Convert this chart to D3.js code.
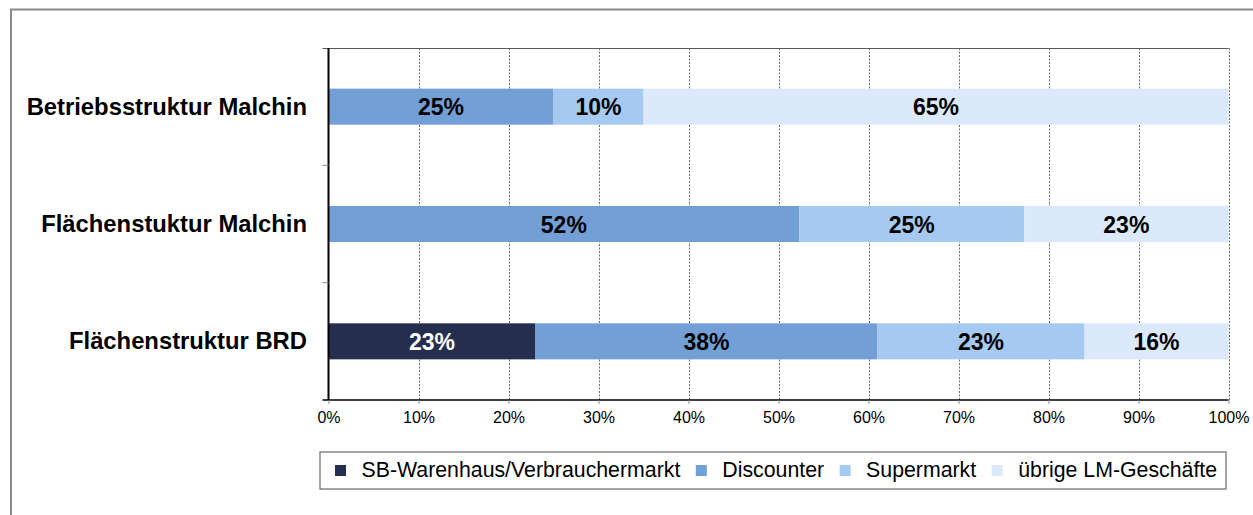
<!DOCTYPE html>
<html><head><meta charset="utf-8">
<script src="https://cdn.jsdelivr.net/npm/d3@7"></script>
<style>body{margin:0;background:#fff;} svg{display:block;font-family:"Liberation Sans",Arial,sans-serif;}</style>
</head><body>
<svg id="c" width="1253" height="515"></svg>
<script>
const categories = ["Betriebsstruktur Malchin", "Flächenstuktur Malchin", "Flächenstruktur BRD"];
const seriesNames = ["SB-Warenhaus/Verbrauchermarkt", "Discounter", "Supermarkt", "übrige LM-Geschäfte"];
const sbWarenhaus = [0, 0, 23];
const discounter = [25, 52.3, 38];
const supermarkt = [10, 25, 23];
const uebrige = [65, 22.7, 16];
const valueLabels = [["", "25%", "10%", "65%"], ["", "52%", "25%", "23%"], ["23%", "38%", "23%", "16%"]];
const tickValues = [0, 10, 20, 30, 40, 50, 60, 70, 80, 90, 100];
const colors = ["#252f4d", "#729fd5", "#a5c9f1", "#dbe9fa"];
const labelColors = ["#fff", "#000", "#000", "#000"];

const series = [sbWarenhaus, discounter, supermarkt, uebrige];
const rows = categories.map((c, i) => {
  const r = {cat: c};
  seriesNames.forEach((s, j) => r[s] = series[j][i]);
  return r;
});
const stack = d3.stack().keys(seriesNames)(rows);

const svg = d3.select("#c");
const pLeft = 328.5, pRight = 1228.5, pTop = 48, pBottom = 400;
const x = d3.scaleLinear().domain([0, 100]).range([pLeft, pRight]);
const y = d3.scaleBand().domain(categories).range([pTop, pBottom]).paddingInner(0.693).paddingOuter(0.3465);

// outer frame
svg.append("rect").attr("x", 11).attr("y", 9.5).attr("width", 1260).attr("height", 520)
  .attr("fill", "none").attr("stroke", "#8a8a8a").attr("stroke-width", 2);

// gridlines
svg.append("g").selectAll("line").data(tickValues.slice(1)).join("line")
  .attr("x1", d => Math.round(x(d)) + 0.5).attr("x2", d => Math.round(x(d)) + 0.5)
  .attr("y1", pTop).attr("y2", pBottom)
  .attr("stroke", "#6f6f6f").attr("stroke-width", 1).attr("stroke-dasharray", "2,1.5");

// top line
svg.append("line").attr("x1", pLeft - 6).attr("x2", pRight).attr("y1", pTop + 0.5).attr("y2", pTop + 0.5)
  .attr("stroke", "#5a5a5a").attr("stroke-width", 1);

// bars
const g = svg.append("g");
stack.forEach((layer, j) => {
  g.selectAll(null).data(layer).join("rect")
    .attr("x", d => x(d[0])).attr("width", d => x(d[1]) - x(d[0]))
    .attr("y", d => y(d.data.cat)).attr("height", y.bandwidth())
    .attr("fill", colors[j]);
});
// value labels
stack.forEach((layer, j) => {
  g.selectAll(null).data(layer).join("text")
    .attr("x", d => (x(d[0]) + x(d[1])) / 2)
    .attr("y", d => y(d.data.cat) + y.bandwidth() / 2 + 8.5)
    .attr("text-anchor", "middle").attr("font-weight", "bold").attr("font-size", 23)
    .attr("fill", labelColors[j])
    .text(d => valueLabels[categories.indexOf(d.data.cat)][j]);
});

// x axis
const xAxis = svg.append("g").attr("transform", `translate(0,${pBottom})`)
  .call(d3.axisBottom(x).tickValues(tickValues).tickFormat(d => d + "%").tickSize(4).tickPadding(8));
xAxis.select(".domain").attr("stroke", "#000").attr("stroke-width", 1.5).attr("d", `M${pLeft - 6},0H${pRight}`);
xAxis.selectAll(".tick line").attr("stroke", "#888");
xAxis.selectAll(".tick text").attr("font-size", 16).attr("fill", "#000").attr("font-family", '"Liberation Sans",Arial,sans-serif');

// y axis line + boundary ticks
svg.append("line").attr("x1", pLeft).attr("x2", pLeft).attr("y1", pTop).attr("y2", pBottom)
  .attr("stroke", "#000").attr("stroke-width", 2);
const bounds = categories.map(c => y(c) - y.step() * y.paddingOuter()).concat([pBottom]);
svg.append("g").selectAll("line").data(bounds.slice(1, 3)).join("line")
  .attr("x1", pLeft - 6).attr("x2", pLeft).attr("y1", d => d).attr("y2", d => d)
  .attr("stroke", "#888").attr("stroke-width", 1);

// category labels
svg.append("g").selectAll("text").data(categories).join("text")
  .attr("x", 307).attr("y", d => y(d) + y.bandwidth() / 2 + 8)
  .attr("text-anchor", "end").attr("font-weight", "bold").attr("font-size", 23.8)
  .attr("fill", "#000").text(d => d);

// legend
const lg = svg.append("g");
lg.append("rect").attr("x", 320).attr("y", 452).attr("width", 906).attr("height", 37)
  .attr("fill", "#fff").attr("stroke", "#6a6a6a").attr("stroke-width", 1.2);
let lx = 335;
seriesNames.forEach((s, j) => {
  lg.append("rect").attr("x", lx).attr("y", 465).attr("width", 11).attr("height", 11).attr("fill", colors[j]);
  const t = lg.append("text").attr("x", lx + 26.5).attr("y", 477).attr("font-size", 21.3).attr("fill", "#000").text(s);
  lx = lx + 26.5 + t.node().getComputedTextLength() + 15.5;
});
</script>
</body></html>
